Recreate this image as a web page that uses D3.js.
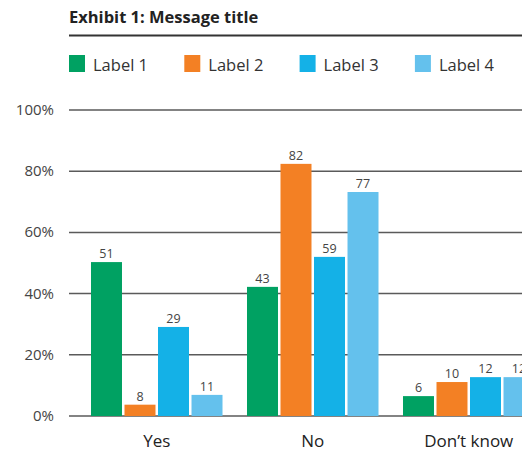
<!DOCTYPE html>
<html>
<head>
<meta charset="utf-8">
<script src="https://cdn.jsdelivr.net/npm/d3@7"></script>
<style>
  html, body { margin: 0; padding: 0; background: #fff; }
  svg { display: block; font-family: "Open Sans", "Noto Sans", sans-serif; }
</style>
</head>
<body>
<svg id="chart" width="522" height="453"></svg>
<script>
const categories = ["Yes", "No", "Don\u2019t know"];
const seriesNames = ["Label 1", "Label 2", "Label 3", "Label 4"];
const seriesColors = ["#00a162", "#f38024", "#14b1e7", "#64c1ed"];
// bar heights as drawn in the picture (%)
const label1 = [50.3, 42.2, 6.5];
const label2 = [3.7, 82.4, 11.1];
const label3 = [29.1, 52, 12.7];
const label4 = [6.9, 73.2, 12.7];
// numbers printed above the bars
const label1Text = [51, 43, 6];
const label2Text = [8, 82, 10];
const label3Text = [29, 59, 12];
const label4Text = [11, 77, 12];
const yTicks = [0, 20, 40, 60, 80, 100];

const values = [label1, label2, label3, label4];
const texts = [label1Text, label2Text, label3Text, label4Text];

const svg = d3.select("#chart");
const width = 522;
const plotLeft = 69, plotTop = 110, plotBottom = 416;

// title
svg.append("text")
    .attr("x", plotLeft).attr("y", 22.5)
    .attr("font-size", 16.5).attr("font-weight", "bold")
    .attr("fill", "#222")
    .text("Exhibit 1: Message title");
svg.append("line")
    .attr("x1", plotLeft).attr("x2", width)
    .attr("y1", 35.5).attr("y2", 35.5)
    .attr("stroke", "#333").attr("stroke-width", 2);

// legend
const legend = svg.append("g");
seriesNames.forEach((name, i) => {
    const lx = plotLeft + i * 115.3;
    legend.append("rect")
        .attr("x", lx).attr("y", 55)
        .attr("width", 16).attr("height", 17)
        .attr("fill", seriesColors[i]);
    legend.append("text")
        .attr("x", lx + 24).attr("y", 71)
        .attr("font-size", 16.5).attr("fill", "#333")
        .text(name);
});

const y = d3.scaleLinear().domain([0, 100]).range([plotBottom, plotTop]);

const x0 = d3.scaleBand()
    .domain(categories)
    .range([plotLeft, plotLeft + 156 * 3.125])
    .paddingInner(0.157)
    .paddingOuter(0.141);

const x1 = d3.scaleBand()
    .domain(d3.range(seriesNames.length))
    .range([0, x0.bandwidth()])
    .paddingInner(0.075);

// gridlines + y labels
const grid = svg.append("g");
yTicks.forEach(t => {
    grid.append("line")
        .attr("x1", plotLeft).attr("x2", width)
        .attr("y1", y(t)).attr("y2", y(t))
        .attr("stroke", "#5a5a5a").attr("stroke-width", 1.5);
    grid.append("text")
        .attr("x", 54).attr("y", y(t) + 5)
        .attr("text-anchor", "end")
        .attr("font-size", 15).attr("fill", "#444")
        .text(t + "%");
});

// bars
const groups = svg.append("g").selectAll("g")
    .data(categories)
    .join("g")
    .attr("transform", c => `translate(${x0(c)},0)`);

groups.each(function(c, ci) {
    const g = d3.select(this);
    values.forEach((series, si) => {
        g.append("rect")
            .attr("x", x1(si))
            .attr("y", y(series[ci]))
            .attr("width", x1.bandwidth())
            .attr("height", y(0) - y(series[ci]))
            .attr("fill", seriesColors[si]);
        g.append("text")
            .attr("x", x1(si) + x1.bandwidth() / 2)
            .attr("y", y(series[ci]) - 4)
            .attr("text-anchor", "middle")
            .attr("font-size", 12.5).attr("fill", "#444")
            .text(texts[si][ci]);
    });
});

// category labels
svg.append("g").selectAll("text")
    .data(categories)
    .join("text")
    .attr("x", c => x0(c) + x0.bandwidth() / 2)
    .attr("y", 447)
    .attr("text-anchor", "middle")
    .attr("font-size", 17).attr("fill", "#222")
    .text(c => c);
</script>
</body>
</html>
